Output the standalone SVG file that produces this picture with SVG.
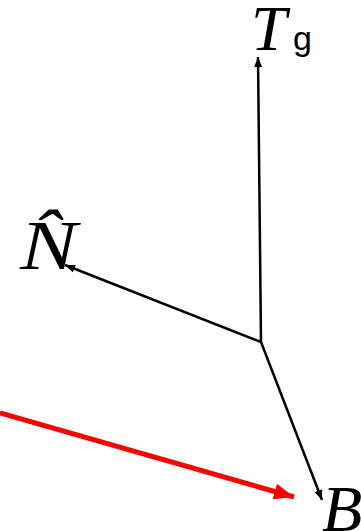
<svg xmlns="http://www.w3.org/2000/svg" width="361" height="531" viewBox="0 0 361 531">
<style>
.ax{stroke:#000;stroke-width:2.5;fill:none}
.red{stroke:#f00;stroke-width:5;fill:none}
.math{font-family:"Liberation Serif","DejaVu Serif",serif;font-style:italic;fill:#000}
.sub{font-family:"Liberation Sans","DejaVu Sans",sans-serif;fill:#000}
</style>
<defs>
<marker id="ah" viewBox="0 0 10 8" refX="10" refY="4" markerWidth="10" markerHeight="8" markerUnits="userSpaceOnUse" orient="auto">
<path d="M0,0 L10,4 L0,8 Z" fill="#000"/>
</marker>
<marker id="ahr" viewBox="0 0 20 16" refX="20" refY="8" markerWidth="20" markerHeight="16" markerUnits="userSpaceOnUse" orient="auto">
<path d="M0,0 L20,8 L0,16 Z" fill="#f00"/>
</marker>
</defs>
<g id="connectors">
<line class="ax" x1="261" y1="342" x2="258" y2="57" marker-end="url(#ah)"/>
<line class="ax" x1="261" y1="342" x2="65" y2="265" marker-end="url(#ah)"/>
<line class="ax" x1="261" y1="342" x2="322" y2="500" marker-end="url(#ah)"/>
<line class="red" x1="0" y1="413" x2="294" y2="497" marker-end="url(#ahr)"/>
</g>
<g id="T">
<text class="math" x="251" y="50" font-size="64">T</text>
<text class="sub" x="293" y="50" font-size="34">g</text>
</g>
<g id="N">
<text class="math" font-size="70" transform="translate(20,269) scale(1.22,1)" x="0" y="0">N&#x302;</text>
</g>
<g id="B">
<text class="math" x="322" y="531" font-size="66">B</text>
</g>
</svg>
